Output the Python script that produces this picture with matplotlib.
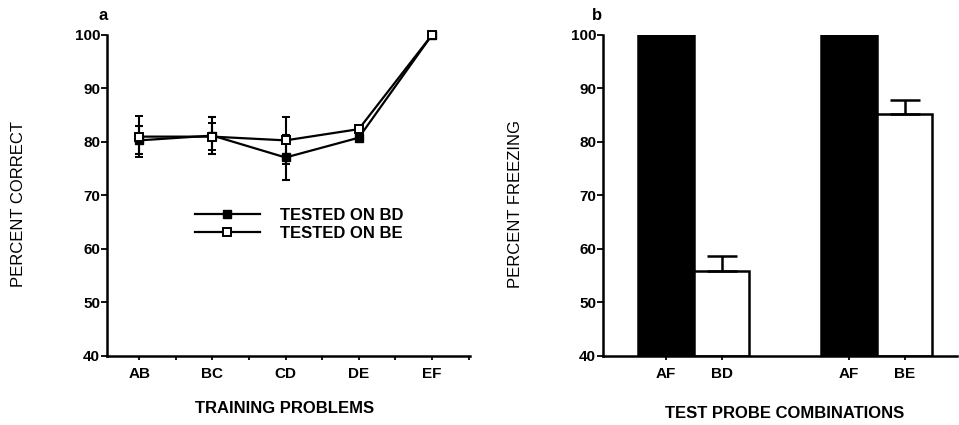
import matplotlib.pyplot as plt
import numpy as np

plt.rcParams['font.family'] = ['Liberation Sans', 'DejaVu Sans']
plt.rcParams['font.weight'] = 'bold'

# panel a data
problems = ['AB', 'BC', 'CD', 'DE', 'EF']
bd_mean = [80.3, 81.2, 77.1, 80.8, 100.0]
bd_err = [2.6, 3.4, 4.2, 0.7, 0.0]
be_mean = [81.0, 81.0, 80.3, 82.4, 100.0]
be_err = [3.8, 2.5, 4.4, 0.8, 0.0]

# panel b data
probe_labels = ['AF', 'BD', 'AF', 'BE']
freezing = [100.0, 55.9, 100.3, 85.3]
freezing_err = [0.0, 2.8, 0.0, 2.6]
bar_colors = ['black', 'white', 'black', 'white']

fig = plt.figure(figsize=(9.59, 4.25), dpi=100)
ax1 = fig.add_axes([0.1116, 0.1624, 0.3785, 0.7553])
ax2 = fig.add_axes([0.6288, 0.1624, 0.369, 0.7553])

for ax in (ax1, ax2):
    for s in ['top', 'right']:
        ax.spines[s].set_visible(False)
    for s in ['left', 'bottom']:
        ax.spines[s].set_linewidth(1.8)
    ax.set_ylim(40, 100)
    ax.set_yticks(np.arange(40, 101, 10))
    ax.tick_params(axis='y', direction='out', length=4, width=1.3, pad=1, labelsize=11)
    ax.tick_params(axis='x', direction='out', length=3, width=1.3, pad=5, labelsize=11)

# ---- panel a
x = np.arange(len(problems))
ax1.errorbar(x, bd_mean, yerr=bd_err, color='black', lw=1.6, marker='s', ms=5.5,
             mfc='black', mec='black', capsize=3, capthick=1.5, elinewidth=1.5,
             label='TESTED ON BD', clip_on=False, zorder=3)
ax1.errorbar(x, be_mean, yerr=be_err, color='black', lw=1.6, marker='s', ms=5.5,
             mfc='white', mec='black', mew=1.4, capsize=3, capthick=1.5, elinewidth=1.5,
             label='TESTED ON BE', clip_on=False, zorder=4)
ax1.set_xlim(-0.44, 4.52)
ax1.set_xticks(x)
ax1.set_xticklabels(problems)
ax1.set_xticks(x + 0.5, minor=True)
ax1.tick_params(axis='x', which='minor', length=3, width=1.3, direction='out')
ax1.set_xlabel('TRAINING PROBLEMS', fontsize=12, fontweight='bold')
ax1.xaxis.set_label_coords(0.49, -0.14)
ax1.set_ylabel('PERCENT CORRECT', fontsize=12)
ax1.yaxis.set_label_coords(-0.222, 0.472)
ax1.text(-0.01, 1.06, 'a', transform=ax1.transAxes, fontsize=12, ha='center', va='center')

handles, labels = ax1.get_legend_handles_labels()
handles = [h[0] for h in handles]
ax1.legend(handles, labels, loc='center left', bbox_to_anchor=(0.242, 0.41),
           frameon=False, fontsize=12, handlelength=3.9, handletextpad=1.2,
           borderpad=0, borderaxespad=0, labelspacing=0.15)

# ---- panel b
pos = [0, 1, 3.3, 4.3]
ax2.bar(pos, [f - 40 for f in freezing], bottom=40, width=1.0, color=bar_colors,
        edgecolor='black', linewidth=1.8, zorder=2)
ax2.errorbar(pos[1::2], freezing[1::2], yerr=[[0, 0], freezing_err[1::2]], fmt='none',
             ecolor='black', elinewidth=1.8, capsize=11, capthick=1.8, zorder=3)
ax2.set_xlim(-1.135, 5.24)
ax2.set_xticks(pos)
ax2.set_xticklabels(probe_labels)
ax2.set_xlabel('TEST PROBE COMBINATIONS', fontsize=12, fontweight='bold')
ax2.xaxis.set_label_coords(0.513, -0.156)
ax2.set_ylabel('PERCENT FREEZING', fontsize=12)
ax2.yaxis.set_label_coords(-0.226, 0.472)
ax2.text(-0.017, 1.06, 'b', transform=ax2.transAxes, fontsize=12, ha='center', va='center')

fig.savefig('out.png', dpi=100)
